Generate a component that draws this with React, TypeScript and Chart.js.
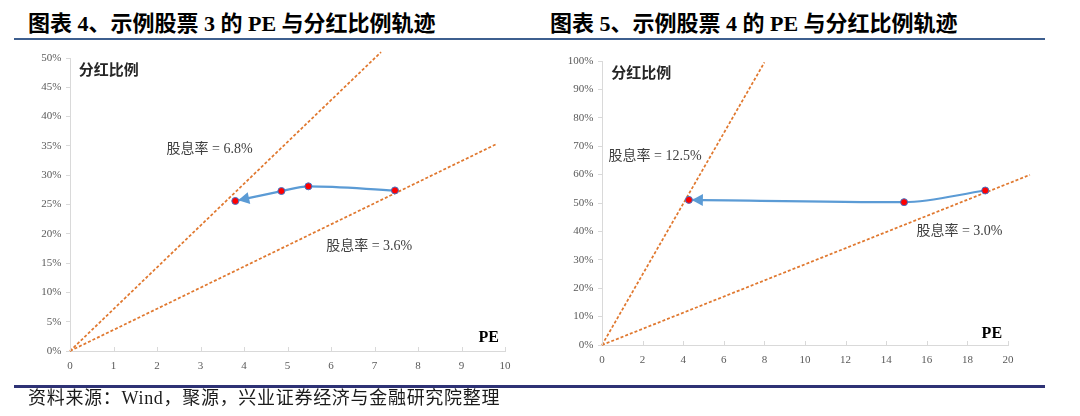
import React, { useEffect, useRef } from 'react';
import { Chart, registerables } from 'chart.js';

Chart.register(...registerables);

// ---------- 图表4：示例股票3 ----------
const c4TrajPE = [7.47, 5.48, 4.86, 3.8];
const c4TrajPayout = [0.274, 0.281, 0.273, 0.256];
const c4HighLinePE = [0, 7.15];
const c4HighLinePayout = [0, 0.51];
const c4LowLinePE = [0, 9.8];
const c4LowLinePayout = [0, 0.353];
const c4Texts = ['分红比例', '股息率 = 6.8%', '股息率 = 3.6%', 'PE'];

// ---------- 图表5：示例股票4 ----------
const c5TrajPE = [18.88, 14.88, 4.28];
const c5TrajPayout = [0.544, 0.503, 0.511];
const c5HighLinePE = [0, 8.0];
const c5HighLinePayout = [0, 0.995];
const c5LowLinePE = [0, 21.08];
const c5LowLinePayout = [0, 0.599];
const c5Texts = ['分红比例', '股息率 = 12.5%', '股息率 = 3.0%', 'PE'];

const title4 = '图表 4、示例股票 3 的 PE 与分红比例轨迹';
const title5 = '图表 5、示例股票 4 的 PE 与分红比例轨迹';
const sourceText = '资料来源：Wind，聚源，兴业证券经济与金融研究院整理';

const SERIF = '"Liberation Serif", "Noto Sans CJK SC", serif';
const ORANGE = '#E0782F';
const BLUE = '#5B9BD5';
const AXIS = '#D9D9D9';

type Lbl = { x: number; y: number; text: string; size: number; bold?: boolean; color: string };

type Spec = {
  trajX: number[];
  trajY: number[];
  hiX: number[];
  hiY: number[];
  loX: number[];
  loY: number[];
  xMax: number;
  xStep: number;
  yMax: number;
  yStep: number;
  yWidth: number;
  pad: { left: number; top: number; right: number; bottom: number };
  labels: Lbl[];
};

const pts = (xs: number[], ys: number[]) => xs.map((x, i) => ({ x, y: ys[i] }));

function makeChart(canvas: HTMLCanvasElement, s: Spec) {
  const labelPlugin = {
    id: 'lbls',
    afterDatasetsDraw(chart: any) {
      const ctx = chart.ctx;
      const xs = chart.scales.x;
      const ys = chart.scales.y;
      ctx.save();
      s.labels.forEach((l) => {
        ctx.font = `${l.bold ? 'bold ' : ''}${l.size}px ${SERIF}`;
        ctx.fillStyle = l.color;
        ctx.textAlign = 'left';
        ctx.textBaseline = 'middle';
        ctx.fillText(l.text, xs.getPixelForValue(l.x), ys.getPixelForValue(l.y));
      });
      ctx.restore();
    },
  };
  const arrowPlugin = {
    id: 'arrow',
    afterDatasetsDraw(chart: any) {
      const meta = chart.getDatasetMeta(0);
      const d = meta.data;
      if (d.length < 2) return;
      const last = d[d.length - 1];
      const prev = d[d.length - 2];
      let dx = last.x - prev.x;
      let dy = last.y - prev.y;
      const len = Math.hypot(dx, dy) || 1;
      dx /= len;
      dy /= len;
      const tipX = last.x - dx * 3;
      const tipY = last.y - dy * 3;
      const bx = tipX - dx * 11;
      const by = tipY - dy * 11;
      const nx = -dy;
      const ny = dx;
      const ctx = chart.ctx;
      ctx.save();
      ctx.fillStyle = BLUE;
      ctx.beginPath();
      ctx.moveTo(tipX, tipY);
      ctx.lineTo(bx + nx * 6, by + ny * 6);
      ctx.lineTo(bx - nx * 6, by - ny * 6);
      ctx.closePath();
      ctx.fill();
      ctx.restore();
    },
  };
  const xTickPlugin = {
    id: 'xticks',
    afterDraw(chart: any) {
      const xs = chart.scales.x;
      const ctx = chart.ctx;
      const b = chart.chartArea.bottom;
      ctx.save();
      ctx.strokeStyle = AXIS;
      ctx.lineWidth = 1;
      xs.ticks.forEach((t: any) => {
        const px = Math.round(xs.getPixelForValue(t.value)) + 0.5;
        ctx.beginPath();
        ctx.moveTo(px, b);
        ctx.lineTo(px, b - 4);
        ctx.stroke();
      });
      ctx.restore();
    },
  };

  const tickFont = { family: SERIF, size: 11 };

  return new Chart(canvas, {
    type: 'scatter',
    data: {
      datasets: [
        {
          data: pts(s.trajX, s.trajY),
          showLine: true,
          borderColor: BLUE,
          borderWidth: 2.25,
          cubicInterpolationMode: 'monotone',
          tension: 0.4,
          pointRadius: 3.5,
          pointBackgroundColor: '#FF0000',
          pointBorderColor: '#4472C4',
          pointBorderWidth: 1,
          clip: false,
        } as any,
        {
          data: pts(s.hiX, s.hiY),
          showLine: true,
          borderColor: ORANGE,
          borderWidth: 1.75,
          borderDash: [3, 2],
          pointRadius: 0,
          clip: false,
        } as any,
        {
          data: pts(s.loX, s.loY),
          showLine: true,
          borderColor: ORANGE,
          borderWidth: 1.75,
          borderDash: [3, 2],
          pointRadius: 0,
          clip: false,
        } as any,
      ],
    },
    options: {
      responsive: false,
      animation: false,
      events: [],
      layout: { padding: s.pad },
      plugins: { legend: { display: false }, tooltip: { enabled: false } },
      scales: {
        x: {
          type: 'linear',
          min: 0,
          max: s.xMax,
          afterFit: (sc: any) => {
            sc.height = 30;
          },
          ticks: {
            stepSize: s.xStep,
            font: tickFont,
            color: '#595959',
            padding: 8.5,
            maxRotation: 0,
            autoSkip: false,
          },
          grid: { display: true, drawOnChartArea: false, drawTicks: false, color: AXIS },
          border: { display: true, color: AXIS, width: 1 },
        },
        y: {
          type: 'linear',
          min: 0,
          max: s.yMax,
          afterFit: (sc: any) => {
            sc.width = s.yWidth;
          },
          ticks: {
            stepSize: s.yStep,
            font: tickFont,
            color: '#595959',
            padding: 4.5,
            autoSkip: false,
            callback: (v: any) => `${Math.round(Number(v) * 100)}%`,
          },
          grid: { display: true, drawOnChartArea: false, drawTicks: true, tickLength: 4, color: AXIS },
          border: { display: true, color: AXIS, width: 1 },
        },
      },
    } as any,
    plugins: [labelPlugin, arrowPlugin, xTickPlugin],
  });
}

function ChartCanvas({ spec, left }: { spec: Spec; left: number }) {
  const ref = useRef<HTMLCanvasElement>(null);
  useEffect(() => {
    if (!ref.current) return;
    const c = makeChart(ref.current, spec);
    return () => c.destroy();
  }, []);
  return (
    <canvas
      ref={ref}
      width={540}
      height={416}
      style={{ position: 'absolute', left, top: 0, width: 540, height: 416, display: 'block' }}
    />
  );
}

const spec4: Spec = {
  trajX: c4TrajPE,
  trajY: c4TrajPayout,
  hiX: c4HighLinePE,
  hiY: c4HighLinePayout,
  loX: c4LowLinePE,
  loY: c4LowLinePayout,
  xMax: 10,
  xStep: 1,
  yMax: 0.5,
  yStep: 0.05,
  yWidth: 70,
  pad: { left: 0, top: 58, right: 35, bottom: 35 },
  labels: [
    { x: 0.2, y: 0.478, text: c4Texts[0], size: 15, bold: true, color: '#262626' },
    { x: 2.22, y: 0.344, text: c4Texts[1], size: 14, color: '#404040' },
    { x: 5.89, y: 0.179, text: c4Texts[2], size: 14, color: '#404040' },
    { x: 9.39, y: 0.022, text: c4Texts[3], size: 16, bold: true, color: '#000000' },
  ],
};

const spec5: Spec = {
  trajX: c5TrajPE,
  trajY: c5TrajPayout,
  hiX: c5HighLinePE,
  hiY: c5HighLinePayout,
  loX: c5LowLinePE,
  loY: c5LowLinePayout,
  xMax: 20,
  xStep: 2,
  yMax: 1,
  yStep: 0.1,
  yWidth: 62,
  pad: { left: 0, top: 61, right: 72, bottom: 41 },
  labels: [
    { x: 0.45, y: 0.955, text: c5Texts[0], size: 15, bold: true, color: '#262626' },
    { x: 0.32, y: 0.664, text: c5Texts[1], size: 14, color: '#404040' },
    { x: 15.49, y: 0.4, text: c5Texts[2], size: 14, color: '#404040' },
    { x: 18.7, y: 0.039, text: c5Texts[3], size: 16, bold: true, color: '#000000' },
  ],
};

export default function App() {
  const titleStyle: React.CSSProperties = {
    position: 'absolute',
    top: 13,
    fontFamily: SERIF,
    fontWeight: 'bold',
    fontSize: 22,
    lineHeight: '22px',
    color: '#000',
    whiteSpace: 'nowrap',
    margin: 0,
  };
  return (
    <div style={{ position: 'absolute', left: 0, top: 0, width: 1080, height: 416, background: '#fff', overflow: 'hidden' }}>
      <div style={{ ...titleStyle, left: 28 }}>{title4}</div>
      <div style={{ ...titleStyle, left: 550 }}>{title5}</div>
      <div style={{ position: 'absolute', left: 14, top: 38, width: 1031, height: 2, background: '#3E5F8F' }} />
      <ChartCanvas spec={spec4} left={0} />
      <ChartCanvas spec={spec5} left={540} />
      <div style={{ position: 'absolute', left: 14, top: 385, width: 1031, height: 3, background: '#2E3275' }} />
      <div
        style={{
          position: 'absolute',
          left: 28,
          top: 389,
          fontFamily: SERIF,
          fontSize: 18,
          lineHeight: '18px',
          letterSpacing: '0.7px',
          color: '#1a1a1a',
          whiteSpace: 'nowrap',
        }}
      >
        {sourceText}
      </div>
    </div>
  );
}
